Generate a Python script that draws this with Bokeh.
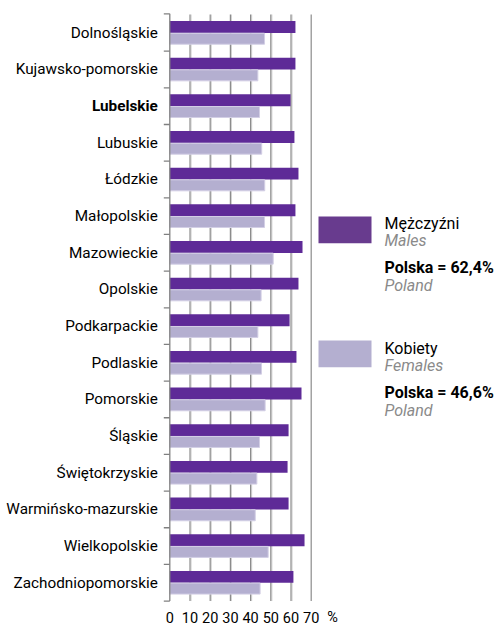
from bokeh.plotting import figure
from bokeh.models import Range1d, ColumnDataSource
from bokeh.core.properties import value
from bokeh.transform import dodge
from bokeh.embed import file_html
from bokeh.resources import INLINE

# ---------------- data ----------------
regions = ["Dolnośląskie", "Kujawsko-pomorskie", "Lubelskie", "Lubuskie", "Łódzkie",
           "Małopolskie", "Mazowieckie", "Opolskie", "Podkarpackie", "Podlaskie",
           "Pomorskie", "Śląskie", "Świętokrzyskie", "Warmińsko-mazurskie",
           "Wielkopolskie", "Zachodniopomorskie"]
males = [62.2, 62.2, 59.8, 61.7, 63.7, 62.2, 65.7, 63.7, 59.3, 62.7,
         65.2, 58.8, 58.3, 58.8, 66.7, 61.2]
females = [46.9, 43.6, 44.4, 45.5, 47.0, 46.9, 51.2, 45.2, 43.6, 45.4,
           47.2, 44.4, 43.1, 42.3, 48.7, 44.7]
highlight = "Lubelskie"
x_ticks = [0, 10, 20, 30, 40, 50, 60, 70]
x_tick_labels = ["0", "10", "20", "30", "40", "50", "60", "70"]
unit_label = "%"
legend_male = ["Mężczyźni", "Males", "Polska = 62,4%", "Poland"]
legend_female = ["Kobiety", "Females", "Polska = 46,6%", "Poland"]

# ---------------- style / layout ----------------
FONT = value("Roboto")
C_MALE = "#5e2a97"
C_FEMALE = "#b4afd0"
C_MALE_SW = "#683b8e"
GRID = "#8c8c8c"
AXIS = "#808080"

W, H = 500, 627
X0_PX, PX = 169.3, 2.02        # canvas x of value 0, pixels per unit
Y0_PX, PY = 14.0, 36.66        # canvas y of first category boundary, pixels per category

def dx(px):                   # pixel length -> data length (x)
    return px / PX

def xd(canvas_x):             # canvas x -> data x
    return (canvas_x - X0_PX) / PX

def yd(canvas_y):             # canvas y -> data y (flipped, first category on top)
    return -0.5 + (canvas_y - Y0_PX) / PY

n = len(regions)
pos = list(range(n))
styles = ["bold" if r == highlight else "normal" for r in regions]
src = ColumnDataSource(dict(pos=pos, male=males, female=females, name=regions, style=styles))

p = figure(width=W, height=H, x_range=Range1d(xd(0), xd(W)), y_range=Range1d(yd(H), yd(0)),
           output_backend="svg", toolbar_location=None,
           min_border_left=0, min_border_right=0, min_border_top=0, min_border_bottom=0)
p.outline_line_color = None
p.xaxis.visible = False
p.yaxis.visible = False
p.xgrid.visible = False
p.ygrid.visible = False

bounds = [i - 0.5 for i in range(n + 1)]

# vertical grid lines (with a light shadow, last one plain)
gx = x_ticks[1:]
p.segment(x0=[x + dx(1.1) for x in gx[:-1]], x1=[x + dx(1.1) for x in gx[:-1]],
          y0=bounds[0], y1=bounds[-1], line_color="#d2d2d2", line_width=1)
p.segment(x0=gx, x1=gx, y0=bounds[0], y1=bounds[-1], line_color=GRID, line_width=1.2)

# bars
p.hbar(y=dodge("pos", -0.16, range=p.y_range), left=0, right="male", height=0.325,
       source=src, fill_color=C_MALE, line_color=None)
p.hbar(y=dodge("pos", 0.16, range=p.y_range), left=0, right="female", height=0.30,
       source=src, fill_color=C_FEMALE, line_color="#d3cfe5", line_width=1)

# left axis line with ticks at category boundaries
p.segment(x0=[0], x1=[0], y0=[yd(13.3)], y1=[bounds[-1]], line_color=AXIS, line_width=1.3)
p.segment(x0=-dx(6), x1=0, y0=[yd(13.3)] + bounds[1:], y1=[yd(13.3)] + bounds[1:],
          line_color=AXIS, line_width=1.3)

# category labels
p.text(x=-dx(12), y="pos", text="name", source=src, text_align="right",
       text_baseline="middle", text_font=FONT, text_font_size="15.3px",
       text_font_style="style", text_color="black")

# x tick labels and unit
p.text(x=x_ticks, y=yd(616.5), text=x_tick_labels, text_align="center",
       text_baseline="middle", text_font=FONT, text_font_size="14.5px", text_color="black")
p.text(x=[xd(332)], y=yd(616.5), text=[unit_label], text_align="center",
       text_baseline="middle", text_font=FONT, text_font_size="14.5px", text_color="black")

# legend
sx0, sx1 = xd(318), xd(371)
p.quad(left=[sx0], right=[sx1], top=[yd(216)], bottom=[yd(242.7)],
       fill_color=C_MALE_SW, line_color=None)
p.quad(left=[sx0], right=[sx1], top=[yd(340)], bottom=[yd(366.7)],
       fill_color=C_FEMALE, line_color=None)

tx = xd(384)
leg_styles = ["normal", "italic", "bold", "italic"]
leg_colors = ["black", "#8a8a8a", "black", "#8a8a8a"]
for lines, ys in ((legend_male, [222.5, 239.7, 267.2, 285.0]),
                  (legend_female, [347.5, 364.7, 392.2, 410.0])):
    for t, yy, st, col in zip(lines, ys, leg_styles, leg_colors):
        p.text(x=[tx], y=[yd(yy)], text=[t], text_align="left", text_baseline="middle",
               text_font=FONT, text_font_size="16px", text_font_style=st, text_color=col)

open("out.html", "w").write(file_html(p, INLINE))
